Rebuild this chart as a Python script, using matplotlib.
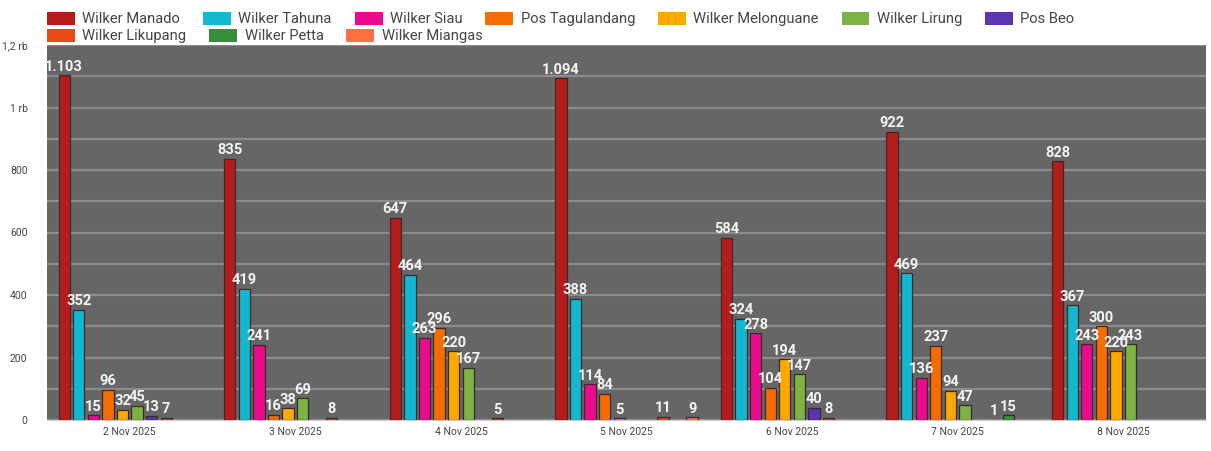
import matplotlib
matplotlib.use("Agg")
import matplotlib.pyplot as plt
import numpy as np
from matplotlib.ticker import FixedLocator, MultipleLocator

plt.rcParams['font.family'] = ['Roboto', 'DejaVu Sans']

dates = ["2 Nov 2025", "3 Nov 2025", "4 Nov 2025", "5 Nov 2025", "6 Nov 2025", "7 Nov 2025", "8 Nov 2025"]
series_names = ["Wilker Manado", "Wilker Tahuna", "Wilker Siau", "Pos Tagulandang", "Wilker Melonguane",
                "Wilker Lirung", "Pos Beo", "Wilker Likupang", "Wilker Petta", "Wilker Miangas"]
# None = no bar
manado      = [1103, 835, 647, 1094, 584, 922, 828]
tahuna      = [352, 419, 464, 388, 324, 469, 367]
siau        = [15, 241, 263, 114, 278, 136, 243]
tagulandang = [96, 16, 296, 84, 104, 237, 300]
melonguane  = [32, 38, 220, 5, 194, 94, 220]
lirung      = [45, 69, 167, None, 147, 47, 243]
pos_beo     = [13, None, None, None, 40, None, None]
likupang    = [7, 8, 5, 11, 8, 1, None]
petta       = [None, None, None, None, None, 15, None]
miangas     = [None, None, None, 9, None, None, None]
series = [manado, tahuna, siau, tagulandang, melonguane, lirung, pos_beo, likupang, petta, miangas]
colors = ["#b71c1c", "#12b8d0", "#ec0a8c", "#f56c00", "#ffa800", "#7cb342", "#5b34b3",
          "#e64a19", "#388e3c", "#ff7043"]

fig = plt.figure(figsize=(12.11, 4.51), dpi=100)
ax = fig.add_axes([47/1211, 1-420/451, (1206-47)/1211, (420-45)/451])
ax.set_facecolor("#666666")

n = len(series)
slot = 0.088
bw = slot * 0.78
x = np.arange(len(dates))
handles = []
for i, (vals, c) in enumerate(zip(series, colors)):
    off = (i - (n - 1) / 2) * slot
    xs = [xi + off for xi, v in zip(x, vals) if v is not None]
    vs = [v for v in vals if v is not None]
    h = ax.bar(xs, vs, width=bw, color=c, edgecolor="#3a2a2a", linewidth=0.9, zorder=3,
               label=series_names[i])
    handles.append(h)
    for xx, vv in zip(xs, vs):
        lbl = f"{vv:,}".replace(",", ".")
        ax.text(xx, vv + 5, lbl, ha="center", va="bottom", color="#f4f4f4", fontsize=10.5,
                fontweight="bold", zorder=4)

ax.set_xlim(-0.5, len(dates) - 0.5)
ax.set_ylim(0, 1200)
ax.yaxis.set_major_locator(FixedLocator([0, 200, 400, 600, 800, 1000, 1200]))
ax.yaxis.set_minor_locator(MultipleLocator(100))
ax.set_yticklabels(["0", "200", "400", "600", "800", "1 rb", "1,2 rb"])
ax.grid(axis="y", which="both", color="#8c8c8c", linewidth=1.6, zorder=1)
ax.set_axisbelow(True)
ax.set_xticks(x)
ax.set_xticklabels(dates)
ax.tick_params(axis="both", which="both", length=0, labelsize=7.5, colors="#444444")
ax.tick_params(axis="x", pad=5)
ax.tick_params(axis="y", pad=14)
for s in ax.spines.values():
    s.set_visible(False)
ax.spines["bottom"].set_visible(True)
ax.spines["bottom"].set_color("#cccccc")

leg_kw = dict(loc="upper left", frameon=False, fontsize=10.6, handlelength=1.9, handleheight=0.95,
              columnspacing=1.55, handletextpad=0.5, borderaxespad=0, borderpad=0)
leg1 = fig.legend(handles[:7], series_names[:7], ncol=7,
                  bbox_to_anchor=(47/1211, 1-12/451), **leg_kw)
leg2 = fig.legend(handles[7:], series_names[7:], ncol=3,
                  bbox_to_anchor=(47/1211, 1-29/451), **leg_kw)
for leg in (leg1, leg2):
    for t in leg.get_texts():
        t.set_color("#444444")
    for p in leg.get_patches():
        p.set_edgecolor("none")

fig.savefig("out.png", dpi=100, facecolor="white")
